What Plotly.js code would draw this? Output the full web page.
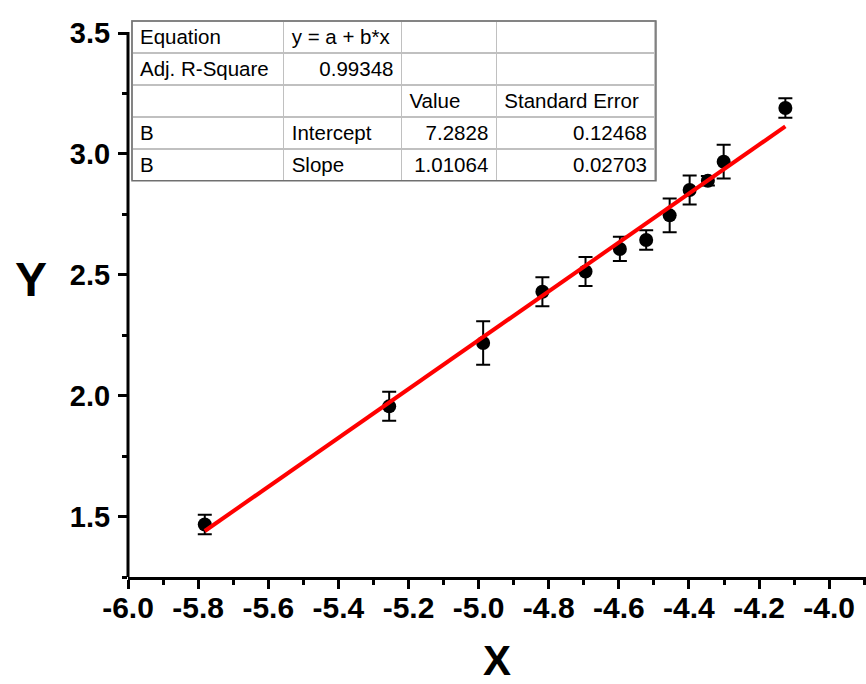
<!DOCTYPE html>
<html>
<head>
<meta charset="utf-8">
<script src="https://cdn.plot.ly/plotly-3.0.1.min.js"></script>
<style>html,body{margin:0;padding:0;background:#fff;}#chart{width:866px;height:684px;}</style>
</head>
<body>
<div id="chart"></div>
<script>
// Data
var xVals = [-5.781, -5.255, -4.987, -4.818, -4.695, -4.597, -4.522, -4.455, -4.398, -4.346, -4.301, -4.125];
var yVals = [1.467, 1.956, 2.218, 2.430, 2.514, 2.607, 2.644, 2.746, 2.851, 2.889, 2.968, 3.190];
var yErr  = [0.04, 0.06, 0.09, 0.06, 0.06, 0.05, 0.04, 0.07, 0.06, 0.02, 0.07, 0.04];

// Linear fit parameters (from the table)
var fitIntercept = 7.2828;
var fitSlope = 1.01064;
var fitX = [-5.781, -4.125];
var fitY = fitX.map(function (x) { return fitIntercept + fitSlope * x; });

// Table content (non-breaking spaces keep the equation on one line)
var tableCol1 = ["Equation", "Adj.\u00a0R-Square", "", "B", "B"];
var tableCol2 = ["y\u00a0=\u00a0a\u00a0+\u00a0b*x", "0.99348", "", "Intercept", "Slope"];
var tableCol3 = ["", "", "Value", "7.2828", "1.01064"];
var tableCol4 = ["", "", "Standard\u00a0Error", "0.12468", "0.02703"];

var xTickVals = [-6.0, -5.8, -5.6, -5.4, -5.2, -5.0, -4.8, -4.6, -4.4, -4.2, -4.0];
var xTickText = ["-6.0", "-5.8", "-5.6", "-5.4", "-5.2", "-5.0", "-4.8", "-4.6", "-4.4", "-4.2", "-4.0"];
var yTickVals = [1.5, 2.0, 2.5, 3.0, 3.5];
var yTickText = ["1.5", "2.0", "2.5", "3.0", "3.5"];

var tableFont = {family: "Liberation Sans, Arial, sans-serif", size: 20.5, color: "#000"};

var traces = [
  {
    type: "scatter", mode: "markers",
    x: xVals, y: yVals,
    error_y: {type: "data", array: yErr, visible: true, color: "#000", thickness: 2, width: 7},
    marker: {color: "#000", size: 14},
    showlegend: false, cliponaxis: false
  },
  {
    type: "scatter", mode: "lines",
    x: fitX, y: fitY,
    line: {color: "#ff0000", width: 4},
    showlegend: false
  },
  {
    type: "table",
    domain: {x: [0.0054, 0.7154], y: [0.7125, 1.0]},
    columnwidth: [152, 118, 95, 159],
    header: {
      values: [tableCol1[0], tableCol2[0], tableCol3[0], tableCol4[0]],
      align: ["left", "left", "left", "left"],
      height: 32,
      font: tableFont,
      fill: {color: "#fff"},
      line: {color: "#c0c0c0", width: 1.5}
    },
    cells: {
      values: [tableCol1.slice(1), tableCol2.slice(1), tableCol3.slice(1), tableCol4.slice(1)],
      align: [
        ["left", "left", "left", "left"],
        ["right", "left", "left", "left"],
        ["left", "left", "right", "right"],
        ["left", "left", "right", "right"]
      ],
      height: 32,
      font: tableFont,
      fill: {color: "#fff"},
      line: {color: "#c0c0c0", width: 1.5}
    }
  }
];

var boldFont = "Liberation Sans, Arial, sans-serif";

var layout = {
  width: 866, height: 684,
  margin: {l: 128, r: 0, t: 21, b: 106.5},
  paper_bgcolor: "#fff", plot_bgcolor: "#fff",
  showlegend: false,
  xaxis: {
    range: [-6.0, -3.895],
    tickmode: "array", tickvals: xTickVals, ticktext: xTickText,
    ticks: "outside", ticklen: 9, tickwidth: 3, tickcolor: "#000",
    minor: {dtick: 0.1, tick0: -6.0, ticks: "outside", ticklen: 5, tickwidth: 3, tickcolor: "#000", showgrid: false},
    showline: true, linecolor: "#000", linewidth: 3,
    showgrid: false, zeroline: false,
    ticklabelstandoff: -7,
    tickfont: {family: boldFont, size: 30, color: "#000", weight: "bold"}
  },
  yaxis: {
    range: [1.25, 3.55],
    tickmode: "array", tickvals: yTickVals, ticktext: yTickText,
    ticks: "outside", ticklen: 9, tickwidth: 3, tickcolor: "#000",
    minor: {dtick: 0.25, tick0: 1.25, ticks: "outside", ticklen: 5, tickwidth: 3, tickcolor: "#000", showgrid: false},
    showline: false,
    showgrid: false, zeroline: false,
    ticklabelstandoff: 2,
    tickfont: {family: boldFont, size: 29, color: "#000", weight: "bold"}
  },
  shapes: [
    {type: "line", xref: "paper", yref: "y", x0: 0, x1: 0, y0: 1.25, y1: 3.505,
     line: {color: "#000", width: 3}},
    {type: "rect", xref: "paper", yref: "paper", x0: 0.0054, x1: 0.7154, y0: 0.7125, y1: 1.0,
     line: {color: "#707070", width: 1.5}, fillcolor: "rgba(0,0,0,0)", layer: "above"}
  ],
  annotations: [
    {text: "Y", xref: "paper", yref: "paper", x: -0.132, y: 0.535, xanchor: "center", yanchor: "middle",
     showarrow: false, font: {family: boldFont, size: 48, color: "#000", weight: "bold"}},
    {text: "X", xref: "paper", yref: "paper", x: 0.5, y: -0.151, xanchor: "center", yanchor: "middle",
     showarrow: false, font: {family: boldFont, size: 42, color: "#000", weight: "bold"}}
  ]
};

Plotly.newPlot("chart", traces, layout, {displayModeBar: false, staticPlot: true});
</script>
</body>
</html>
